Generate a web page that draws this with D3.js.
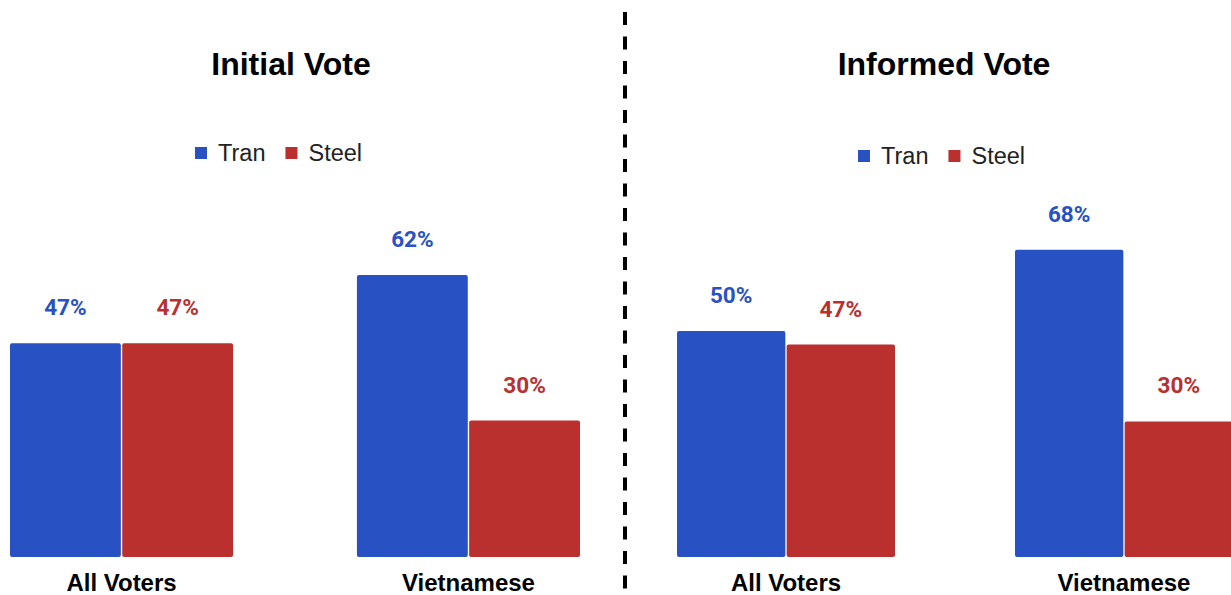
<!DOCTYPE html>
<html>
<head>
<meta charset="utf-8">
<script src="https://cdn.jsdelivr.net/npm/d3@7"></script>
<style>
  body { margin: 0; background: #fff; }
  svg { display: block; }
</style>
</head>
<body>
<svg id="chart" width="1231" height="595"></svg>
<script>
//chart data
let categories = ["All Voters", "Vietnamese"];
let series = ["Tran", "Steel"];
let panelTitles = ["Initial Vote", "Informed Vote"];
let initialTran = [47, 62];
let initialSteel = [47, 30];
let informedTran = [50, 68];
let informedSteel = [47, 30];

let colors = { Tran: "#2851c3", Steel: "#b9302f" };
let svg = d3.select("#chart");

//dashed divider between panels
svg.append("line")
  .attr("x1", 625).attr("x2", 625)
  .attr("y1", 12).attr("y2", 592)
  .attr("stroke", "#000").attr("stroke-width", 4)
  .attr("stroke-dasharray", "13,11.5");

//one panel = title, legend, grouped bars, labels
function drawPanel(opts) {
  let g = svg.append("g");
  let data = categories.map(function (c, i) {
    return { cat: c, values: { Tran: opts.tran[i], Steel: opts.steel[i] } };
  });

  let x0 = d3.scaleBand().domain(categories).range(opts.xRange).paddingInner(opts.padding).paddingOuter(0);
  let x1 = d3.scaleBand().domain(series).range([0, x0.bandwidth()]).paddingInner(0.012);
  let y = d3.scaleLinear().domain([0, 100]).range([557, 557 - opts.pxPer100]);

  //title
  g.append("text")
    .attr("x", opts.titleX).attr("y", 75)
    .attr("text-anchor", "middle")
    .style("font-family", "Liberation Sans, Arial, sans-serif")
    .style("font-weight", "bold").style("font-size", "32px")
    .text(opts.title);

  //legend
  let lg = g.append("g").attr("transform", "translate(" + opts.legendX + "," + opts.legendY + ")");
  let lx = 0;
  series.forEach(function (s) {
    lg.append("rect").attr("x", lx).attr("y", -6).attr("width", 12).attr("height", 12).attr("fill", colors[s]);
    let t = lg.append("text").attr("x", lx + 23).attr("y", 8)
      .style("font-family", "Liberation Sans, Arial, sans-serif")
      .style("font-size", "23.5px").attr("fill", "#222").text(s);
    lx += 23 + t.node().getComputedTextLength() + 20;
  });

  let groups = g.selectAll(".grp").data(data).enter().append("g")
    .attr("class", "grp")
    .attr("transform", function (d) { return "translate(" + x0(d.cat) + ",0)"; });

  let items = function (d) { return series.map(function (s) { return { s: s, v: d.values[s] }; }); };

  groups.selectAll("rect").data(items).enter().append("rect")
    .attr("x", function (d) { return x1(d.s); })
    .attr("y", function (d) { return y(d.v); })
    .attr("width", x1.bandwidth())
    .attr("height", function (d) { return y(0) - y(d.v); })
    .attr("rx", 2)
    .attr("fill", function (d) { return colors[d.s]; });

  groups.selectAll(".label").data(items).enter().append("text")
    .attr("class", "label")
    .attr("text-anchor", "middle")
    .attr("x", function (d) { return x1(d.s) + x1.bandwidth() / 2; })
    .attr("y", function (d) { return y(d.v) - 28; })
    .style("font-family", "Roboto, sans-serif")
    .style("font-weight", "bold").style("font-size", "22.5px")
    .attr("fill", function (d) { return colors[d.s]; })
    .text(function (d) { return d.v + "%"; });

  //category names under groups
  groups.append("text")
    .attr("x", x0.bandwidth() / 2).attr("y", 591)
    .attr("text-anchor", "middle")
    .style("font-family", "Liberation Sans, Arial, sans-serif")
    .style("font-weight", "bold").style("font-size", "24px")
    .text(function (d) { return d.cat; });
}

drawPanel({ title: panelTitles[0], tran: initialTran, steel: initialSteel,
  xRange: [10, 580], padding: 0.357, pxPer100: 455, titleX: 291, legendX: 195, legendY: 153 });
drawPanel({ title: panelTitles[1], tran: informedTran, steel: informedSteel,
  xRange: [677, 1233], padding: 0.355, pxPer100: 452, titleX: 944, legendX: 858, legendY: 156 });
</script>
</body>
</html>
